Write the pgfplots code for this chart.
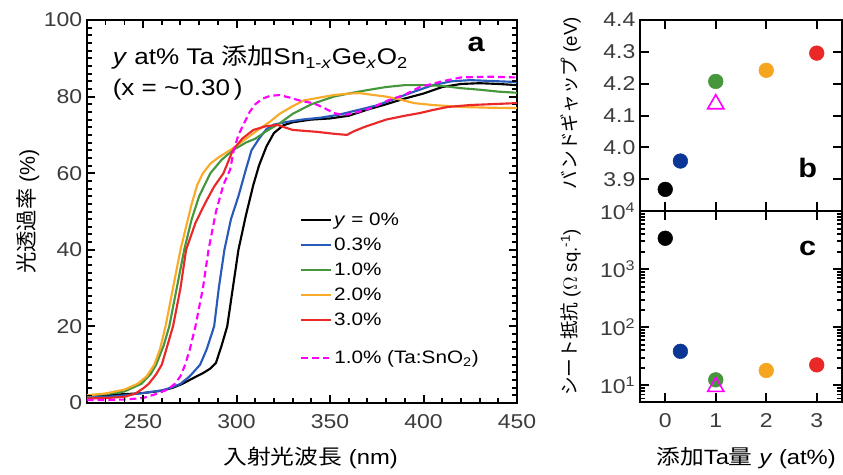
\documentclass[border=0pt]{standalone}
\usepackage{fontspec}
\setmainfont{Liberation Sans}[FakeStretch=1.15]
\newfontfamily\plain{Liberation Sans}
\newfontfamily\jp{Noto Sans CJK JP}[FakeStretch=1.15]
\newfontfamily\jpr{Noto Sans CJK JP}
\usepackage{pgfplots}
\pgfplotsset{compat=1.18}

\definecolor{cblue}{RGB}{40,90,185}
\definecolor{cgreen}{RGB}{70,150,60}
\definecolor{corange}{RGB}{248,170,40}
\definecolor{cred}{RGB}{235,40,40}
\definecolor{cmag}{RGB}{255,0,255}
\definecolor{dblue}{RGB}{10,55,150}
\definecolor{dorange}{RGB}{245,165,30}
\definecolor{tickc}{RGB}{60,60,60}

\pgfplotsset{
  curve/.style={line width=1.6pt},
}
\tikzset{mj/.style={black, line width=1.5pt}, mn/.style={black, line width=1.1pt}}

\begin{document}
\begin{tikzpicture}
\path (0,0) rectangle (632.25pt,-356.25pt);

% ---------------- panel a ----------------
\begin{axis}[
  at={(65.25pt,-302.25pt)}, anchor=south west,
  scale only axis, width=322.5pt, height=287.25pt,
  xmin=220, xmax=450, ymin=0, ymax=100,
  xtick={250,300,350,400,450}, minor x tick num=4,
  ytick={0,20,40,60,80,100}, minor y tick num=9,
  tick align=inside, tick pos=both,
  major tick length=6pt, minor tick length=3.5pt,
  tick style={black, line width=1.5pt},
  axis line style={line width=1.5pt},
  tick label style={font=\fontsize{15pt}{15pt}\selectfont, text=tickc},
  xticklabel style={yshift=-5pt},
  every axis x label/.style={at={(axis description cs:0.52,-0.144)}, anchor=center},
  every axis y label/.style={at={(axis description cs:-0.137,0.5)}, rotate=90, anchor=center},
  xlabel={\fontsize{15.5pt}{15.5pt}\selectfont{\jp 入射光波長} (nm)},
  ylabel={\plain\fontsize{16pt}{16pt}\selectfont{\jpr 光透過率} (\%)},
  legend style={at={(axis description cs:0.495,0.347)}, anchor=west, draw=none, fill=none,
    font=\fontsize{13.5pt}{13.5pt}\selectfont, inner sep=0pt, row sep=3.8pt},
  legend cell align=left,
  legend image code/.code={\draw[#1,line width=1.6pt] (0pt,0pt) -- (22pt,0pt);},
  /pgf/number format/assume math mode=true,
]
\addplot[curve, black] coordinates {
(220,2.0) (230,2.1) (240,2.3) (250,2.6) (260,3.2) (266,4.0) (271,5.0) (276,6.3) (282,7.8) (286,9.0) (289,10.5)
(292,15) (295,20) (298,30) (301,40) (305,49) (309,57) (312,62) (316,67) (320,70.5) (325,72.5) (330,73.3)
(340,74) (350,74.3) (360,75) (370,76.6) (380,78) (390,79.5) (400,80.8) (410,82.5) (420,83.3) (430,83.5) (440,83.3) (450,83)};
\addlegendentry{\textit{y} = 0\%}
\addplot[curve, cblue] coordinates {
(220,1.4) (230,1.6) (240,2.0) (250,2.6) (260,3.3) (265,4.0) (270,5.0) (275,7.0) (280.5,10) (284,14) (288,20)
(290.5,30) (293.5,40) (297,48) (301,54) (305,61) (308,66) (312,69) (316,71.5) (320,72.7) (327,73.4) (335,74)
(345,74.5) (355,75.3) (365,76.5) (375,77.7) (385,79.5) (395,81.3) (405,83) (415,84) (425,84.3) (440,84) (450,83.8)};
\addlegendentry{0.3\%}
\addplot[curve, cgreen] coordinates {
(220,2.0) (230,2.3) (240,3.0) (249,5) (254,7.5) (257,10) (261,15) (264,20) (268,30) (272,40) (276,48) (280,54)
(286,60) (292,63.5) (298,66) (305,68) (310,69) (316,71) (323,73) (330,75.5) (340,78) (352,80) (362,81) (370,81.7)
(380,82.5) (390,83) (400,83) (410,82.8) (420,82.2) (430,81.8) (440,81.3) (450,81)};
\addlegendentry{1.0\%}
\addplot[curve, corange] coordinates {
(220,2.0) (230,2.5) (240,3.5) (247,5) (252,7) (256,10) (259,14) (262,20) (266,30) (270,40) (273,46) (276,52)
(279,57) (282,60) (286,62.5) (290,64) (298,66.5) (305,69) (312,71.5) (318,73.5) (323,75.5) (330,77.5) (336,79)
(345,79.8) (352,80.4) (360,80.8) (366,80.9) (372,80.5) (380,80) (387,79.3) (395,78.3) (405,77.8) (420,77.3) (435,77.1) (450,77)};
\addlegendentry{2.0\%}
\addplot[curve, cred] coordinates {
(220,1.2) (230,1.3) (240,1.6) (246,2.5) (250,3.8) (253,5) (257,7.5) (260,10) (263,15) (266,20) (270,30) (273,40)
(278,47) (283,52) (288,56.5) (293,60) (298,66) (303,69) (309,71.3) (316,72.3) (322,72.6) (330,71.3) (343,70.8)
(352,70.3) (359,70) (363,71) (368,72) (380,74) (390,75) (398,75.7) (405,76.5) (413,77.3) (425,77.8) (450,78.3)};
\addlegendentry{3.0\%}
\addplot[curve, cmag, dash pattern=on 5pt off 3pt, forget plot] coordinates {
(220,0.8) (230,0.8) (240,0.9) (250,1.3) (258,2.5) (263,3.5) (267,5) (270,7) (272.5,10) (275,14) (278,20) (282,30)
(285,40) (289,50) (293,57) (296.6,61) (298.5,66) (301,70) (304,73) (307,76) (310,78) (314,79.5) (318,80.2)
(323,80.4) (328,79.8) (335,78.8) (341,78.3) (347,77) (352,75.7) (356,75.3) (359,75.3) (365,76) (372,77) (381,79)
(390,80.5) (398,82.5) (410,84) (420,85) (435,85.2) (450,85)};
% tick marks (axis decoration)
\pgfplotsinvokeforeach{230,240,...,440}{
  \draw[mn] (axis cs:#1,0) -- ++(0pt,3.5pt);
  \draw[mn] (axis cs:#1,100) -- ++(0pt,-3.5pt);}
\pgfplotsinvokeforeach{250,300,350,400}{
  \draw[mj] (axis cs:#1,0) -- ++(0pt,6pt);
  \draw[mj] (axis cs:#1,100) -- ++(0pt,-6pt);}
\pgfplotsinvokeforeach{2,4,...,98}{
  \draw[mn] (axis cs:220,#1) -- ++(3.5pt,0pt);
  \draw[mn] (axis cs:450,#1) -- ++(-3.5pt,0pt);}
\pgfplotsinvokeforeach{20,40,60,80}{
  \draw[mj] (axis cs:220,#1) -- ++(6pt,0pt);
  \draw[mj] (axis cs:450,#1) -- ++(-6pt,0pt);}
\node[anchor=west, font=\fontsize{17pt}{17pt}\selectfont] at (axis description cs:0.049,0.901)
  {\textit{y} at\% Ta {\jp 添加}Sn\textsubscript{1-\textit{x}}Ge\textsubscript{\textit{x}}O\textsubscript{2}};
\node[anchor=west, font=\fontsize{17pt}{17pt}\selectfont] at (axis description cs:0.049,0.817)
  {(x = \textasciitilde0.30\,)};
\node[font=\fontsize{20pt}{20pt}\selectfont\bfseries] at (axis description cs:0.905,0.935) {a};
\end{axis}

% second legend for the dashed entry
\begin{axis}[
  at={(65.25pt,-302.25pt)}, anchor=south west,
  scale only axis, width=322.5pt, height=287.25pt,
  xmin=220, xmax=450, ymin=0, ymax=100, hide axis,
  legend style={at={(axis description cs:0.495,0.1175)}, anchor=west, draw=none, fill=none,
    font=\fontsize{13.5pt}{13.5pt}\selectfont, inner sep=0pt},
  legend cell align=left,
  legend image code/.code={\draw[#1,line width=1.6pt] (0pt,0pt) -- (22pt,0pt);},
]
\addlegendimage{cmag, dash pattern=on 5pt off 3pt}
\addlegendentry{1.0\% (Ta:SnO\textsubscript{2})}
\end{axis}

% ---------------- panel b ----------------
\begin{axis}[
  at={(480pt,-158.25pt)}, anchor=south west,
  scale only axis, width=151.5pt, height=143.25pt,
  xmin=-0.5, xmax=3.5, ymin=3.8, ymax=4.4,
  xtick={0,1,2,3}, xticklabels={},
  ytick={3.9,4.0,4.1,4.2,4.3,4.4},
  tick align=inside, tick pos=both,
  major tick length=7pt,
  tick style={black, line width=1.5pt},
  axis line style={line width=1.3pt},
  tick label style={font=\fontsize{15pt}{15pt}\selectfont, text=tickc},
  every axis y label/.style={at={(axis description cs:-0.342,0.565)}, rotate=90, anchor=center},
  ylabel={\plain\fontsize{14pt}{14pt}\selectfont{\jpr バンドギャップ} (eV)},
  yticklabel style={/pgf/number format/.cd, fixed, fixed zerofill, precision=1, assume math mode=true},
]
\addplot[only marks, mark=*, mark size=5.5pt, black] coordinates {(0,3.868)};
\addplot[only marks, mark=*, mark size=5.5pt, dblue, mark options={fill=dblue}] coordinates {(0.3,3.957)};
\addplot[only marks, mark=*, mark size=5.5pt, cgreen, mark options={fill=cgreen}] coordinates {(1,4.207)};
\addplot[only marks, mark=*, mark size=5.5pt, dorange, mark options={fill=dorange}] coordinates {(2,4.242)};
\addplot[only marks, mark=*, mark size=5.5pt, cred, mark options={fill=cred}] coordinates {(3,4.296)};
\addplot[only marks, mark=triangle, mark size=7pt, cmag, mark options={line width=1.2pt}] coordinates {(1,4.136)};
\pgfplotsinvokeforeach{0,1,2,3}{
  \draw[mj] (axis cs:#1,3.8) -- ++(0pt,7pt);
  \draw[mj] (axis cs:#1,4.4) -- ++(0pt,-7pt);}
\pgfplotsinvokeforeach{3.9,4.0,4.1,4.2,4.3}{
  \draw[mj] (axis cs:-0.5,#1) -- ++(7pt,0pt);
  \draw[mj] (axis cs:3.5,#1) -- ++(-7pt,0pt);}
\node[font=\fontsize{20pt}{20pt}\selectfont\bfseries] at (axis description cs:0.83,0.225) {b};
\end{axis}

% ---------------- panel c ----------------
\begin{axis}[
  at={(480pt,-301.5pt)}, anchor=south west,
  scale only axis, width=151.5pt, height=143.25pt,
  ymode=log,
  xmin=-0.5, xmax=3.5, ymin=5.2, ymax=10000,
  xtick={0,1,2,3},
  ytick={10,100,1000,10000},
  yticklabels={10\textsuperscript{1},10\textsuperscript{2},10\textsuperscript{3},10\textsuperscript{4}},
  tick align=inside, tick pos=both,
  major tick length=7pt, minor tick length=4pt,
  tick style={black, line width=1.5pt},
  axis line style={line width=1.3pt},
  tick label style={font=\fontsize{15pt}{15pt}\selectfont, text=tickc},
  xticklabel style={yshift=-5pt},
  every axis x label/.style={at={(axis description cs:0.525,-0.293)}, anchor=center},
  every axis y label/.style={at={(axis description cs:-0.342,0.47)}, rotate=90, anchor=center},
  xlabel={\fontsize{15.5pt}{15.5pt}\selectfont{\jp 添加}Ta{\jp 量} \textit{y} (at\%)},
  ylabel={\plain\fontsize{14pt}{14pt}\selectfont{\jpr シート抵抗} ($\Omega$ sq.\textsuperscript{-1})},
  /pgf/number format/assume math mode=true,
]
\addplot[only marks, mark=*, mark size=5.5pt, black] coordinates {(0,3400)};
\addplot[only marks, mark=*, mark size=5.5pt, dblue, mark options={fill=dblue}] coordinates {(0.3,38.7)};
\addplot[only marks, mark=*, mark size=5.5pt, cgreen, mark options={fill=cgreen}] coordinates {(1,12.5)};
\addplot[only marks, mark=*, mark size=5.5pt, dorange, mark options={fill=dorange}] coordinates {(2,18.1)};
\addplot[only marks, mark=*, mark size=5.5pt, cred, mark options={fill=cred}] coordinates {(3,22.6)};
\addplot[only marks, mark=triangle, mark size=7pt, cmag, mark options={line width=1.2pt}] coordinates {(1,9.5)};
\pgfplotsinvokeforeach{0,1,2,3}{
  \draw[mj] (axis cs:#1,5.2) -- ++(0pt,7pt);
  \draw[mj] (axis cs:#1,10000) -- ++(0pt,-7pt);}
\pgfplotsinvokeforeach{10,100,1000}{
  \draw[mj] (axis cs:-0.5,#1) -- ++(7pt,0pt);
  \draw[mj] (axis cs:3.5,#1) -- ++(-7pt,0pt);}
\pgfplotsinvokeforeach{6,7,8,9,20,30,40,50,60,70,80,90,200,300,400,500,600,700,800,900,2000,3000,4000,5000,6000,7000,8000,9000}{
  \draw[mn] (axis cs:-0.5,#1) -- ++(4pt,0pt);
  \draw[mn] (axis cs:3.5,#1) -- ++(-4pt,0pt);}
\node[font=\fontsize{20pt}{20pt}\selectfont\bfseries] at (axis description cs:0.83,0.806) {c};
\end{axis}
\end{tikzpicture}
\end{document}
